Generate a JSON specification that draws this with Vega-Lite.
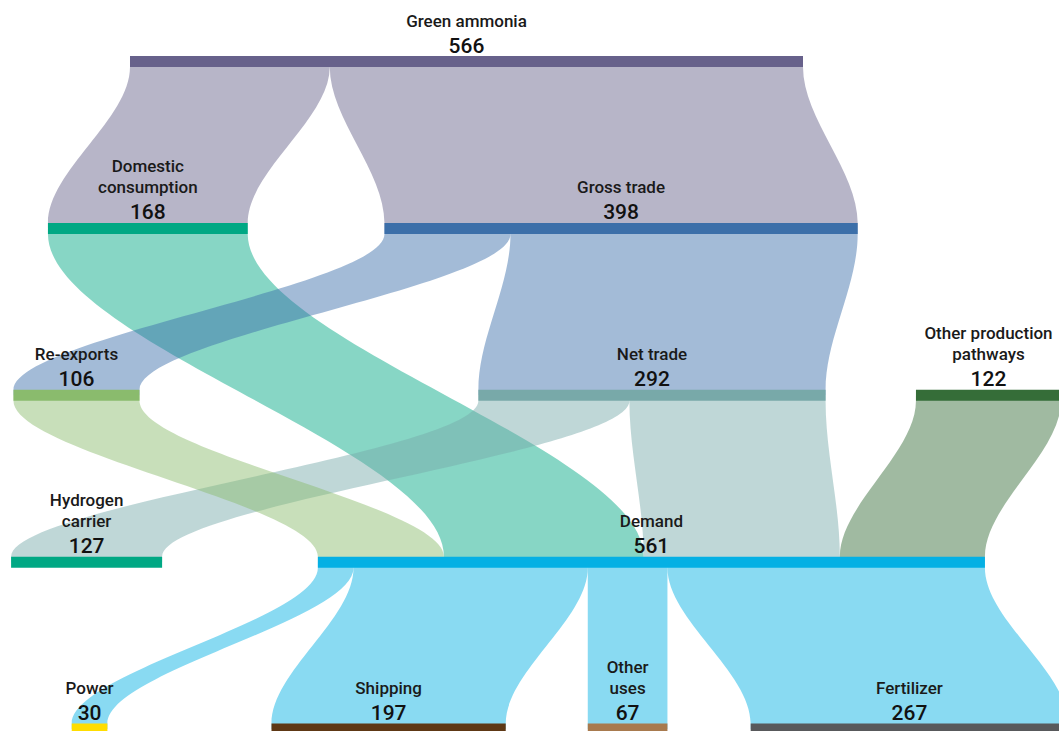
{
  "$schema": "https://vega.github.io/schema/vega-lite/v6.json",
  "width": 1059,
  "height": 731,
  "padding": 0,
  "autosize": {"type": "none"},
  "background": "white",
  "view": {"stroke": null},
  "config": {"font": "Roboto"},
  "datasets": {
    "nodes": [
      {"name": "Green ammonia", "label": "Green ammonia", "lines": 1, "value": 566, "level": 0, "x0": 0, "x1": 566},
      {"name": "Domestic consumption", "label": "Domestic\nconsumption", "lines": 2, "value": 168, "level": 1, "x0": -69, "x1": 99},
      {"name": "Gross trade", "label": "Gross trade", "lines": 1, "value": 398, "level": 1, "x0": 214, "x1": 612},
      {"name": "Re-exports", "label": "Re-exports", "lines": 1, "value": 106, "level": 2, "x0": -98, "x1": 8},
      {"name": "Net trade", "label": "Net trade", "lines": 1, "value": 292, "level": 2, "x0": 293, "x1": 585},
      {"name": "Other production pathways", "label": "Other production\npathways", "lines": 2, "value": 122, "level": 2, "x0": 661, "x1": 783},
      {"name": "Hydrogen carrier", "label": "Hydrogen\ncarrier", "lines": 2, "value": 127, "level": 3, "x0": -100, "x1": 27},
      {"name": "Demand", "label": "Demand", "lines": 1, "value": 561, "level": 3, "x0": 158, "x1": 719},
      {"name": "Power", "label": "Power", "lines": 1, "value": 30, "level": 4, "x0": -49, "x1": -19},
      {"name": "Shipping", "label": "Shipping", "lines": 1, "value": 197, "level": 4, "x0": 119, "x1": 316},
      {"name": "Other uses", "label": "Other\nuses", "lines": 2, "value": 67, "level": 4, "x0": 385, "x1": 452},
      {"name": "Fertilizer", "label": "Fertilizer", "lines": 1, "value": 267, "level": 4, "x0": 522, "x1": 789}
    ],
    "links": [
      {"link": "GA-DC", "src": "Green ammonia", "level": 0, "xl": 0, "xr": 168},
      {"link": "GA-DC", "src": "Green ammonia", "level": 0.033, "xl": 0, "xr": 168},
      {"link": "GA-DC", "src": "Green ammonia", "level": 0.967, "xl": -69, "xr": 99},
      {"link": "GA-DC", "src": "Green ammonia", "level": 1, "xl": -69, "xr": 99},
      {"link": "GA-GT", "src": "Green ammonia", "level": 0, "xl": 168, "xr": 566},
      {"link": "GA-GT", "src": "Green ammonia", "level": 0.033, "xl": 168, "xr": 566},
      {"link": "GA-GT", "src": "Green ammonia", "level": 0.967, "xl": 214, "xr": 612},
      {"link": "GA-GT", "src": "Green ammonia", "level": 1, "xl": 214, "xr": 612},
      {"link": "DC-DEM", "src": "Domestic consumption", "level": 1, "xl": -69, "xr": 99},
      {"link": "DC-DEM", "src": "Domestic consumption", "level": 1.033, "xl": -69, "xr": 99},
      {"link": "DC-DEM", "src": "Domestic consumption", "level": 2.967, "xl": 264, "xr": 432},
      {"link": "DC-DEM", "src": "Domestic consumption", "level": 3, "xl": 264, "xr": 432},
      {"link": "GT-RE", "src": "Gross trade", "level": 1, "xl": 214, "xr": 320},
      {"link": "GT-RE", "src": "Gross trade", "level": 1.033, "xl": 214, "xr": 320},
      {"link": "GT-RE", "src": "Gross trade", "level": 1.967, "xl": -98, "xr": 8},
      {"link": "GT-RE", "src": "Gross trade", "level": 2, "xl": -98, "xr": 8},
      {"link": "GT-NT", "src": "Gross trade", "level": 1, "xl": 320, "xr": 612},
      {"link": "GT-NT", "src": "Gross trade", "level": 1.033, "xl": 320, "xr": 612},
      {"link": "GT-NT", "src": "Gross trade", "level": 1.967, "xl": 293, "xr": 585},
      {"link": "GT-NT", "src": "Gross trade", "level": 2, "xl": 293, "xr": 585},
      {"link": "NT-HC", "src": "Net trade", "level": 2, "xl": 293, "xr": 420},
      {"link": "NT-HC", "src": "Net trade", "level": 2.033, "xl": 293, "xr": 420},
      {"link": "NT-HC", "src": "Net trade", "level": 2.967, "xl": -100, "xr": 27},
      {"link": "NT-HC", "src": "Net trade", "level": 3, "xl": -100, "xr": 27},
      {"link": "NT-DEM", "src": "Net trade", "level": 2, "xl": 420, "xr": 585},
      {"link": "NT-DEM", "src": "Net trade", "level": 2.033, "xl": 420, "xr": 585},
      {"link": "NT-DEM", "src": "Net trade", "level": 2.967, "xl": 432, "xr": 597},
      {"link": "NT-DEM", "src": "Net trade", "level": 3, "xl": 432, "xr": 597},
      {"link": "RE-DEM", "src": "Re-exports", "level": 2, "xl": -98, "xr": 8},
      {"link": "RE-DEM", "src": "Re-exports", "level": 2.033, "xl": -98, "xr": 8},
      {"link": "RE-DEM", "src": "Re-exports", "level": 2.967, "xl": 158, "xr": 264},
      {"link": "RE-DEM", "src": "Re-exports", "level": 3, "xl": 158, "xr": 264},
      {"link": "OPP-DEM", "src": "Other production pathways", "level": 2, "xl": 661, "xr": 783},
      {"link": "OPP-DEM", "src": "Other production pathways", "level": 2.033, "xl": 661, "xr": 783},
      {"link": "OPP-DEM", "src": "Other production pathways", "level": 2.967, "xl": 597, "xr": 719},
      {"link": "OPP-DEM", "src": "Other production pathways", "level": 3, "xl": 597, "xr": 719},
      {"link": "DEM-PW", "src": "Demand", "level": 3, "xl": 158, "xr": 188},
      {"link": "DEM-PW", "src": "Demand", "level": 3.033, "xl": 158, "xr": 188},
      {"link": "DEM-PW", "src": "Demand", "level": 3.967, "xl": -49, "xr": -19},
      {"link": "DEM-PW", "src": "Demand", "level": 4, "xl": -49, "xr": -19},
      {"link": "DEM-SH", "src": "Demand", "level": 3, "xl": 188, "xr": 385},
      {"link": "DEM-SH", "src": "Demand", "level": 3.033, "xl": 188, "xr": 385},
      {"link": "DEM-SH", "src": "Demand", "level": 3.967, "xl": 119, "xr": 316},
      {"link": "DEM-SH", "src": "Demand", "level": 4, "xl": 119, "xr": 316},
      {"link": "DEM-OU", "src": "Demand", "level": 3, "xl": 385, "xr": 452},
      {"link": "DEM-OU", "src": "Demand", "level": 3.033, "xl": 385, "xr": 452},
      {"link": "DEM-OU", "src": "Demand", "level": 3.967, "xl": 385, "xr": 452},
      {"link": "DEM-OU", "src": "Demand", "level": 4, "xl": 385, "xr": 452},
      {"link": "DEM-FE", "src": "Demand", "level": 3, "xl": 452, "xr": 719},
      {"link": "DEM-FE", "src": "Demand", "level": 3.033, "xl": 452, "xr": 719},
      {"link": "DEM-FE", "src": "Demand", "level": 3.967, "xl": 522, "xr": 789},
      {"link": "DEM-FE", "src": "Demand", "level": 4, "xl": 522, "xr": 789}
    ]
  },
  "layer": [
    {
      "data": {"name": "links"},
      "mark": {"type": "area", "orient": "horizontal", "interpolate": "monotone", "opacity": 0.47},
      "encoding": {
        "y": {"field": "level", "type": "quantitative", "scale": {"domain": [-0.3685, 4.0114], "reverse": true, "nice": false, "zero": false}, "axis": null},
        "x": {"field": "xl", "type": "quantitative", "stack": null, "scale": {"domain": [-109.33, 781.3], "nice": false, "zero": false}, "axis": null},
        "x2": {"field": "xr"},
        "color": {
          "field": "src", "type": "nominal", "legend": null,
          "scale": {
            "domain": ["Green ammonia", "Domestic consumption", "Gross trade", "Re-exports", "Net trade", "Other production pathways", "Hydrogen carrier", "Demand", "Power", "Shipping", "Other uses", "Fertilizer"],
            "range": ["#67618b", "#00a884", "#3c6fa9", "#8abb6d", "#78a9a9", "#356d38", "#00a884", "#05b0e4", "#ffdd00", "#5e3815", "#a87a4e", "#58595b"]
          }
        },
        "detail": {"field": "link"}
      }
    },
    {
      "data": {"name": "nodes"},
      "mark": {"type": "rule", "strokeWidth": 11, "strokeCap": "butt"},
      "encoding": {
        "y": {"field": "level", "type": "quantitative"},
        "x": {"field": "x0", "type": "quantitative"},
        "x2": {"field": "x1"},
        "color": {"field": "name", "type": "nominal", "legend": null}
      }
    },
    {
      "data": {"name": "nodes"},
      "transform": [{"filter": "datum.lines == 1"}, {"calculate": "(datum.x0 + datum.x1) / 2", "as": "xc"}],
      "mark": {"type": "text", "baseline": "alphabetic", "align": "center", "dy": -35, "fontSize": 17, "fontWeight": 500, "color": "#1a1a1a"},
      "encoding": {
        "y": {"field": "level", "type": "quantitative"},
        "x": {"field": "xc", "type": "quantitative"},
        "text": {"field": "label"}
      }
    },
    {
      "data": {"name": "nodes"},
      "transform": [{"filter": "datum.lines == 2"}, {"calculate": "(datum.x0 + datum.x1) / 2", "as": "xc"}],
      "mark": {"type": "text", "baseline": "alphabetic", "align": "center", "dy": -56, "fontSize": 17, "fontWeight": 500, "lineHeight": 21, "lineBreak": "\n", "color": "#1a1a1a"},
      "encoding": {
        "y": {"field": "level", "type": "quantitative"},
        "x": {"field": "xc", "type": "quantitative"},
        "text": {"field": "label"}
      }
    },
    {
      "data": {"name": "nodes"},
      "transform": [{"calculate": "(datum.x0 + datum.x1) / 2", "as": "xc"}],
      "mark": {"type": "text", "baseline": "alphabetic", "align": "center", "dy": -9, "fontSize": 21, "fontWeight": 500, "color": "#111111"},
      "encoding": {
        "y": {"field": "level", "type": "quantitative"},
        "x": {"field": "xc", "type": "quantitative"},
        "text": {"field": "value", "type": "quantitative"}
      }
    }
  ]
}
